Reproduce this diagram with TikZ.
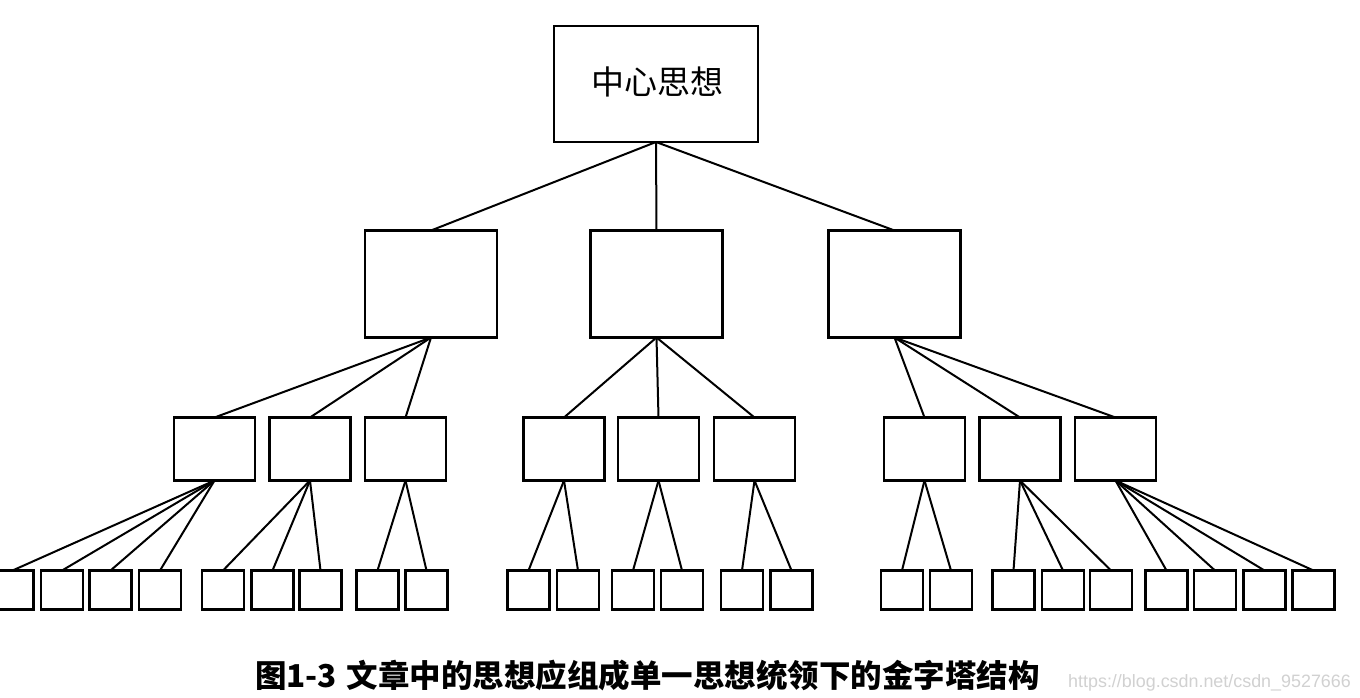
\documentclass[tikz,border=0pt]{standalone}
\usepackage{fontspec}
\newfontfamily\cjk{Noto Sans CJK SC}
\newfontfamily\wmfont{Liberation Sans}
\begin{document}
\begin{tikzpicture}[x=1pt,y=-1pt,
  box/.style={draw, line width=2.4pt, inner sep=0pt, outer sep=0pt},
  topbox/.style={box, minimum width=204pt, minimum height=116pt},
  midbox/.style={box, minimum width=132pt, minimum height=107pt},
  smallbox/.style={box, minimum width=81pt, minimum height=63pt},
  leaf/.style={box, minimum width=42pt, minimum height=39pt},
  link/.style={line width=2pt}]
\useasboundingbox (0,0) rectangle (1360,698);
\fill[white] (0,0) rectangle (1360,698);

% top
\node[topbox] (top) at (656,84) {};
\node[font=\cjk\fontsize{33}{33}\selectfont] (toptext) at (657.5,82) {中心思想};

% level 2
\node[midbox] (a) at (431,284) {};
\node[midbox] (b) at (656.5,284) {};
\node[midbox] (c) at (894.5,284) {};

% level 3
\node[smallbox] (a1) at (214.5,449) {};
\node[smallbox] (a2) at (310,449) {};
\node[smallbox] (a3) at (405.5,449) {};
\node[smallbox] (b1) at (564,449) {};
\node[smallbox] (b2) at (658.5,449) {};
\node[smallbox] (b3) at (754.5,449) {};
\node[smallbox] (c1) at (924.5,449) {};
\node[smallbox] (c2) at (1020,449) {};
\node[smallbox] (c3) at (1115.5,449) {};

% leaves
\foreach \x [count=\i] in {12.5,62,110.5,160} \node[leaf] (a1l\i) at (\x,590) {};
\foreach \x [count=\i] in {223,272.5,320.5} \node[leaf] (a2l\i) at (\x,590) {};
\foreach \x [count=\i] in {377.5,426.5} \node[leaf] (a3l\i) at (\x,590) {};
\foreach \x [count=\i] in {528.5,578} \node[leaf] (b1l\i) at (\x,590) {};
\foreach \x [count=\i] in {633,682} \node[leaf] (b2l\i) at (\x,590) {};
\foreach \x [count=\i] in {742,791.5} \node[leaf] (b3l\i) at (\x,590) {};
\foreach \x [count=\i] in {902,951} \node[leaf] (c1l\i) at (\x,590) {};
\foreach \x [count=\i] in {1013.5,1063,1111} \node[leaf] (c2l\i) at (\x,590) {};
\foreach \x [count=\i] in {1166.5,1215,1264.5,1313.5} \node[leaf] (c3l\i) at (\x,590) {};

% connectors top -> level 2
\foreach \t in {a,b,c} \draw[link] (top.south) -- (\t.north);
% level 2 -> level 3
\foreach \p in {a,b,c} \foreach \i in {1,2,3} \draw[link] (\p.south) -- (\p\i.north);
% level 3 -> leaves
\foreach \i in {1,...,4} \draw[link] (a1.south) -- (a1l\i.north);
\foreach \i in {1,...,3} \draw[link] (a2.south) -- (a2l\i.north);
\foreach \i in {1,2} \draw[link] (a3.south) -- (a3l\i.north);
\foreach \i in {1,2} \draw[link] (b1.south) -- (b1l\i.north);
\foreach \i in {1,2} \draw[link] (b2.south) -- (b2l\i.north);
\foreach \i in {1,2} \draw[link] (b3.south) -- (b3l\i.north);
\foreach \i in {1,2} \draw[link] (c1.south) -- (c1l\i.north);
\foreach \i in {1,...,3} \draw[link] (c2.south) -- (c2l\i.north);
\foreach \i in {1,...,4} \draw[link] (c3.south) -- (c3l\i.north);

% caption
\node[font=\cjk\bfseries\fontsize{31.5}{31.5}\selectfont, anchor=west, inner sep=0pt] (caption) at (255,675) {图1-3\hspace{0.3em}文章中的思想应组成单一思想统领下的金字塔结构};
\node[font=\wmfont\fontsize{17.9}{17.9}\selectfont, text=black!18, anchor=west, inner sep=0pt] (wm) at (1068,683) {https://blog.csdn.net/csdn\_9527666};
\end{tikzpicture}
\end{document}
